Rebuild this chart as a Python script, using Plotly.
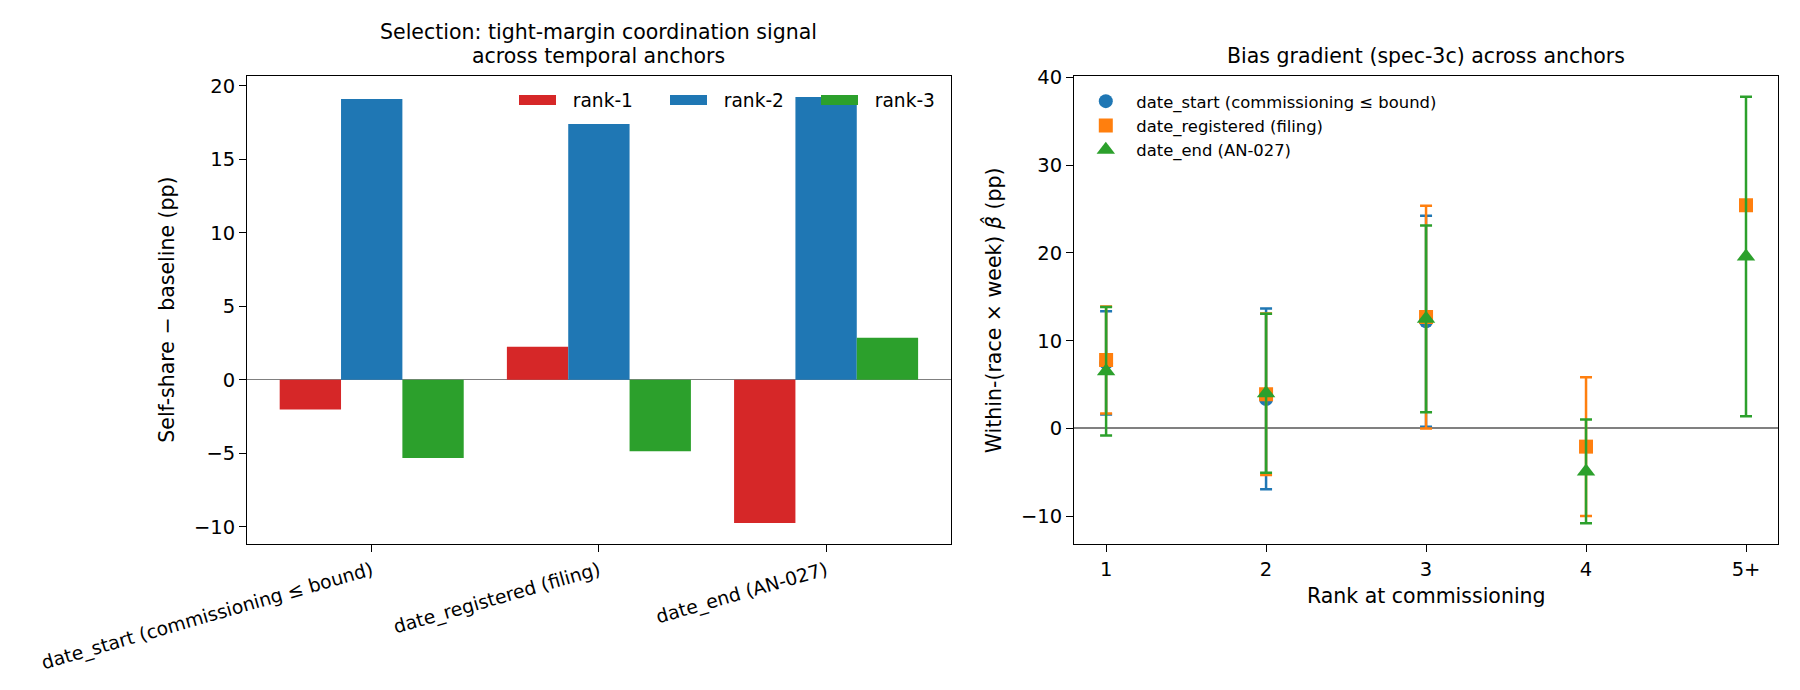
import plotly.graph_objects as go

# ---------------- data ----------------
anchors = ["date_start (commissioning ≤ bound)", "date_registered (filing)", "date_end (AN-027)"]
rank1_vals = [-2.02, 2.26, -9.74]
rank2_vals = [19.11, 17.41, 19.25]
rank3_vals = [-5.32, -4.85, 2.87]

ranks = [1, 2, 3, 4, 5]
rank_labels = ["1", "2", "3", "4", "5+"]
start_beta = [7.47, 3.36, 12.21, None, None]
start_err = [5.88, 10.30, 12.02, None, None]
reg_beta = [7.80, 3.90, 12.70, -2.07, 25.45]
reg_err = [6.10, 9.20, 12.69, 7.91, 0.0]
end_beta = [6.52, 4.02, 12.49, -4.90, 19.60]
end_err = [7.32, 9.06, 10.64, 5.91, 18.20]

W, H = 1800, 690
FONT = "DejaVu Sans"
NBSP = "\u00a0"

def px_x(p):
    return p / W

def px_y(p):
    return 1 - p / H

fig = go.Figure()

# ---------------- left: bars ----------------
bar_series = [("rank-1", rank1_vals, "#d62728"),
              ("rank-2", rank2_vals, "#1f77b4"),
              ("rank-3", rank3_vals, "#2ca02c")]
for name, vals, col in bar_series:
    fig.add_trace(go.Bar(x=anchors, y=vals, name=name, marker=dict(color=col, line=dict(width=0)),
                         xaxis="x", yaxis="y", showlegend=False))
# legend patches (wide rectangles like the reference legend)
for name, vals, col in bar_series:
    fig.add_trace(go.Scatter(x=[None], y=[None], mode="lines", name=NBSP * 2 + name,
                             line=dict(color=col, width=12.7),
                             xaxis="x", yaxis="y", legend="legend"))

# ---------------- right: error bars ----------------
series = [
    ("date_start (commissioning ≤ bound)", start_beta, start_err, "#1f77b4", "circle"),
    ("date_registered (filing)", reg_beta, reg_err, "#ff7f0e", "square"),
    ("date_end (AN-027)", end_beta, end_err, "#2ca02c", "triangle-up"),
]
for i, (name, b, e, col, sym) in enumerate(series):
    fig.add_trace(go.Scatter(
        x=ranks, y=b, name=name, mode="markers",
        marker=dict(color=col, symbol=sym, size=14 if sym != "triangle-up" else 16, line=dict(width=0)),
        error_y=dict(type="data", array=e, visible=True, color=col, thickness=2.5, width=6),
        xaxis="x2", yaxis="y2", legend="legend2", legendgroup="g%d" % i,
    ))

ydom = [1 - 544.3 / H, 1 - 75.7 / H]
axis_common = dict(showline=True, linecolor="black", linewidth=1.3, mirror=True,
                   ticks="outside", ticklen=7, tickwidth=1.3, tickcolor="black",
                   showgrid=False, tickfont=dict(family=FONT, size=19.5, color="black"))

fig.update_layout(
    width=W, height=H,
    margin=dict(l=0, r=0, t=0, b=0),
    paper_bgcolor="white", plot_bgcolor="white",
    font=dict(family=FONT, color="black"),
    barmode="group", bargap=0.19, bargroupgap=0,
    xaxis=dict(domain=[247.2 / W, 950.6 / W], range=[-0.548, 2.548], tickangle=-16,
               **{**axis_common, "tickfont": dict(family=FONT, size=18.8, color="black")},
               zeroline=False, automargin=False),
    yaxis=dict(domain=ydom, range=[-11.19, 20.70], tickvals=[-10, -5, 0, 5, 10, 15, 20],
               ticktext=["−10", "−5", "0", "5", "10", "15", "20"],
               zeroline=True, zerolinecolor="#808080", zerolinewidth=1, automargin=False,
               **axis_common),
    xaxis2=dict(domain=[1074.1 / W, 1778 / W], range=[0.8, 5.2], tickvals=ranks, ticktext=rank_labels,
                zeroline=False, automargin=False, anchor="y2", **axis_common),
    yaxis2=dict(domain=ydom, range=[-13.2, 40.2], tickvals=[-10, 0, 10, 20, 30, 40],
                ticktext=["−10", "0", "10", "20", "30", "40"], anchor="x2",
                zeroline=True, zerolinecolor="#808080", zerolinewidth=1.8, automargin=False,
                **axis_common),
    legend=dict(orientation="h", x=514.0 / W, xanchor="left", y=px_y(100.3), yanchor="middle",
                itemwidth=37, entrywidth=99, entrywidthmode="pixels",
                font=dict(family=FONT, size=18.6, color="black"), bgcolor="rgba(0,0,0,0)",
                borderwidth=0, traceorder="normal"),
    legend2=dict(orientation="v", x=1075.3 / W, xanchor="left", y=px_y(84), yanchor="top",
                 itemwidth=51, tracegroupgap=0,
                 font=dict(family=FONT, size=16.4, color="black"), bgcolor="rgba(0,0,0,0)",
                 borderwidth=0, traceorder="normal"),
    showlegend=True,
)

ann = []
def add_text(text, x, y, size, angle=0):
    ann.append(dict(text=text, x=px_x(x), y=px_y(y), xref="paper", yref="paper",
                    showarrow=False, xanchor="center", yanchor="middle", textangle=angle,
                    font=dict(family=FONT, size=size, color="black")))

add_text("Selection: tight-margin coordination signal", 598.9, 32, 20.5)
add_text("across temporal anchors", 598.9, 56, 20.5)
add_text("Bias gradient (spec-3c) across anchors", 1426, 56, 20.5)
add_text("Self-share − baseline (pp)", 166.7, 310, 20.5, -90)
add_text("Within-(race × week) <i>β̂</i> (pp)", 993.2, 310, 20.5, -90)
add_text("Rank at commissioning", 1426, 596, 20.5)
fig.update_layout(annotations=ann)

fig.write_html("out.html")
